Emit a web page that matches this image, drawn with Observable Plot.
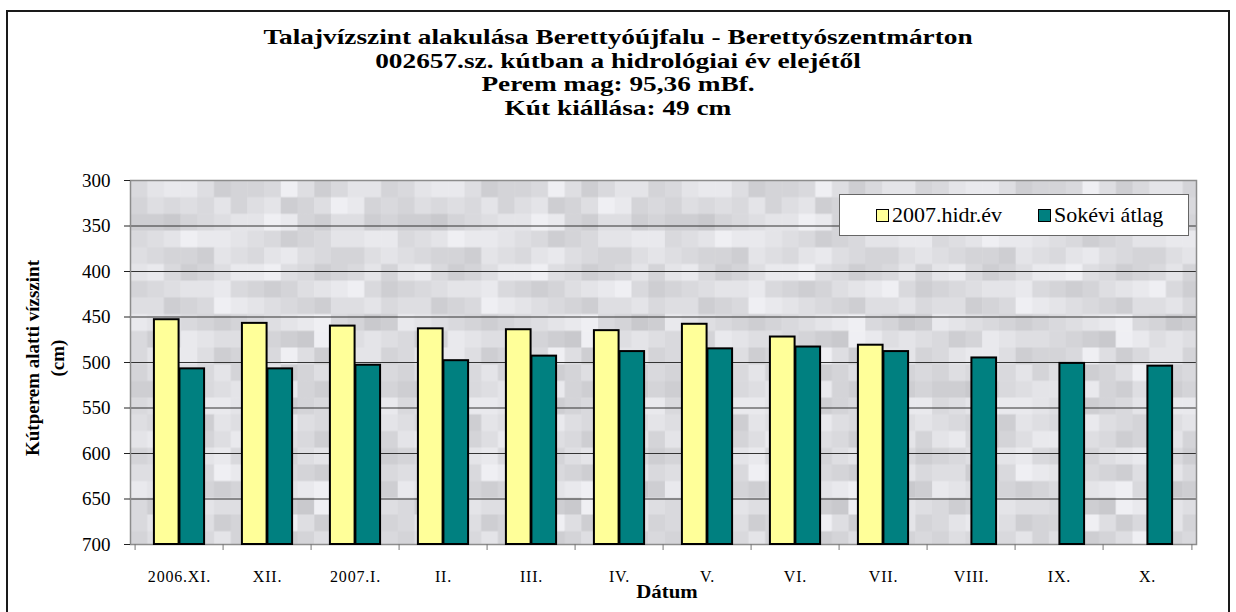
<!DOCTYPE html>
<html><head><meta charset="utf-8">
<script src="https://cdn.jsdelivr.net/npm/d3@7"></script>
<script src="https://cdn.jsdelivr.net/npm/@observablehq/plot@0.6"></script>
<style>
body{margin:0;background:#fff;font-family:"Liberation Serif","Times New Roman",serif;}
#wrap{position:relative;width:1236px;height:612px;overflow:hidden;background:#fff;}
#border{position:absolute;left:6px;top:10px;width:1224px;height:640px;border:2px solid #1a1a1a;box-sizing:border-box;}
#title{position:absolute;left:0;width:1236px;top:26px;text-align:center;font-weight:bold;font-size:21px;line-height:23.5px;color:#000;transform:scaleX(1.3);transform-origin:618px 0;}
#ytitle{position:absolute;left:45px;top:358px;width:320px;text-align:center;font-weight:bold;font-size:19px;line-height:25px;transform:translate(-50%,-50%) rotate(-90deg);white-space:nowrap;}
#xtitle{position:absolute;left:667px;top:592px;transform:translate(-50%,-50%) scaleX(1.1);font-weight:bold;font-size:19px;}
#legend{position:absolute;left:839px;top:194px;width:350px;height:42px;background:#fff;border:1px solid #666;box-sizing:border-box;font-size:22px;}
.li{position:absolute;top:0;height:40px;display:flex;align-items:center;white-space:nowrap;}
.sw{display:inline-block;width:11px;height:11px;border:1px solid #000;margin-right:3px;}
#chart{position:absolute;left:0;top:0;}
#chart svg text{font-family:"Liberation Serif","Times New Roman",serif;}
</style></head>
<body>
<div id="wrap">
  <div id="chart"></div>
  <div id="border"></div>
  <div id="title"></div>
  <div id="ytitle">Kútperem alatti vízszint<br>(cm)</div>
  <div id="xtitle">Dátum</div>
  <div id="legend"></div>
</div>
<script>
// ---- data ----
const titleLines = [
  "Talajvízszint alakulása Berettyóújfalu - Berettyószentmárton",
  "002657.sz. kútban a hidrológiai év elejétől",
  "Perem mag: 95,36 mBf.",
  "Kút kiállása: 49 cm"
];
const categories = ["2006.XI.","XII.","2007.I.","II.","III.","IV.","V.","VI.","VII.","VIII.","IX.","X."];
const seriesNames = ["2007.hidr.év","Sokévi átlag"];
const hidr2007 = [453, 457, 460, 463, 464, 465, 458, 472, 481, null, null, null];
const sokevi   = [507, 507, 503, 498, 493, 488, 485, 483, 488, 495, 501, 504];
const yTicks = [300, 350, 400, 450, 500, 550, 600, 650, 700];

// ---- layout / style ----
const W = 1236, H = 612, mL = 130, mR = 40, mT = 180, mB = 68;
const colors = ["#FFFF99", "#008080"];
const serif = "'Liberation Serif', 'Times New Roman', serif";
const bw = (W - mL - mR) / categories.length;
const barW = 25.5;
const yBottom = yTicks[yTicks.length - 1], yTop = yTicks[0];

const rowsA = categories.map((c, i) => ({cat: c, value: hidr2007[i]})).filter(d => d.value != null);
const rowsB = categories.map((c, i) => ({cat: c, value: sokevi[i]}));

document.getElementById("title").innerHTML = titleLines.join("<br>");
const leg = document.getElementById("legend");
const legPos = [36, 198];
seriesNames.forEach((s, i) => {
  const d = document.createElement("div");
  d.className = "li"; d.style.left = legPos[i] + "px";
  d.innerHTML = `<span class="sw" style="background:${colors[i]}"></span>${s}`;
  leg.appendChild(d);
});

const chart = Plot.plot({
  width: W, height: H,
  marginLeft: mL, marginRight: mR, marginTop: mT, marginBottom: mB,
  style: {fontFamily: serif, background: "transparent", color: "#000"},
  x: {type: "band", domain: categories, padding: 0},
  y: {domain: [yBottom, yTop]},
  marks: [
    Plot.frame({fill: "url(#tex)", stroke: null}),
    Plot.gridY(yTicks.slice(1, -1), {stroke: "#333", strokeOpacity: 1, strokeWidth: 1}),
    Plot.frame({stroke: "#8c8c8c", strokeWidth: 1.5}),
    Plot.barY(rowsA, {x: "cat", y1: yBottom, y2: "value", fill: colors[0], stroke: "#000", strokeWidth: 2,
      insetLeft: bw / 2 - barW, insetRight: bw / 2}),
    Plot.barY(rowsB, {x: "cat", y1: yBottom, y2: "value", fill: colors[1], stroke: "#000", strokeWidth: 2,
      insetLeft: bw / 2, insetRight: bw / 2 - barW}),
    Plot.ruleX(categories, {x: d => d, dx: -bw / 2, y1: yBottom, y2: yBottom, insetBottom: -6, stroke: "#777"}),
    Plot.ruleX(categories.slice(-1), {x: d => d, dx: bw / 2, y1: yBottom, y2: yBottom, insetBottom: -6, stroke: "#777"}),
    Plot.axisY({ticks: yTicks, tickSize: 6, tickPadding: 14, fontSize: 19, fontFamily: serif, line: true, stroke: "#222", label: null, tickFormat: d => String(d)}),
    Plot.axisX({tickSize: 0, tickPadding: 26, fontSize: 16, fontFamily: serif, label: null})
  ]
});
document.getElementById("chart").appendChild(chart);

// background texture pattern (decorative)
const texRows = [
  "5788634459635774",
  "4656574673469845",
  "3324567798436634",
  "5679887653457788",
  "6544376578654467",
  "7853468896534574",
  "4567785434678953",
  "6634598765436675",
  "8765434567895423",
  "5348766543298676"
];
const cell = 16.7;
const ns = "http://www.w3.org/2000/svg";
const svg = chart.tagName.toLowerCase() === "svg" ? chart : chart.querySelector("svg");
svg.querySelectorAll("g[aria-label='x-axis tick label'] text").forEach(t => t.setAttribute("letter-spacing", "0.8"));
const defs = document.createElementNS(ns, "defs");
const pat = document.createElementNS(ns, "pattern");
pat.setAttribute("id", "tex");
pat.setAttribute("patternUnits", "userSpaceOnUse");
pat.setAttribute("x", mL); pat.setAttribute("y", mT);
pat.setAttribute("width", texRows[0].length * cell);
pat.setAttribute("height", texRows.length * cell);
texRows.forEach((row, r) => {
  [...row].forEach((ch, c) => {
    const v = Math.round(190 + (+ch) * 5.4);
    const rect = document.createElementNS(ns, "rect");
    rect.setAttribute("x", c * cell); rect.setAttribute("y", r * cell);
    rect.setAttribute("width", cell + 0.5); rect.setAttribute("height", cell + 0.5);
    rect.setAttribute("fill", `rgb(${v},${v},${Math.min(255, v + 4)})`);
    pat.appendChild(rect);
  });
});
defs.appendChild(pat);
svg.insertBefore(defs, svg.firstChild);
</script>
</body></html>
